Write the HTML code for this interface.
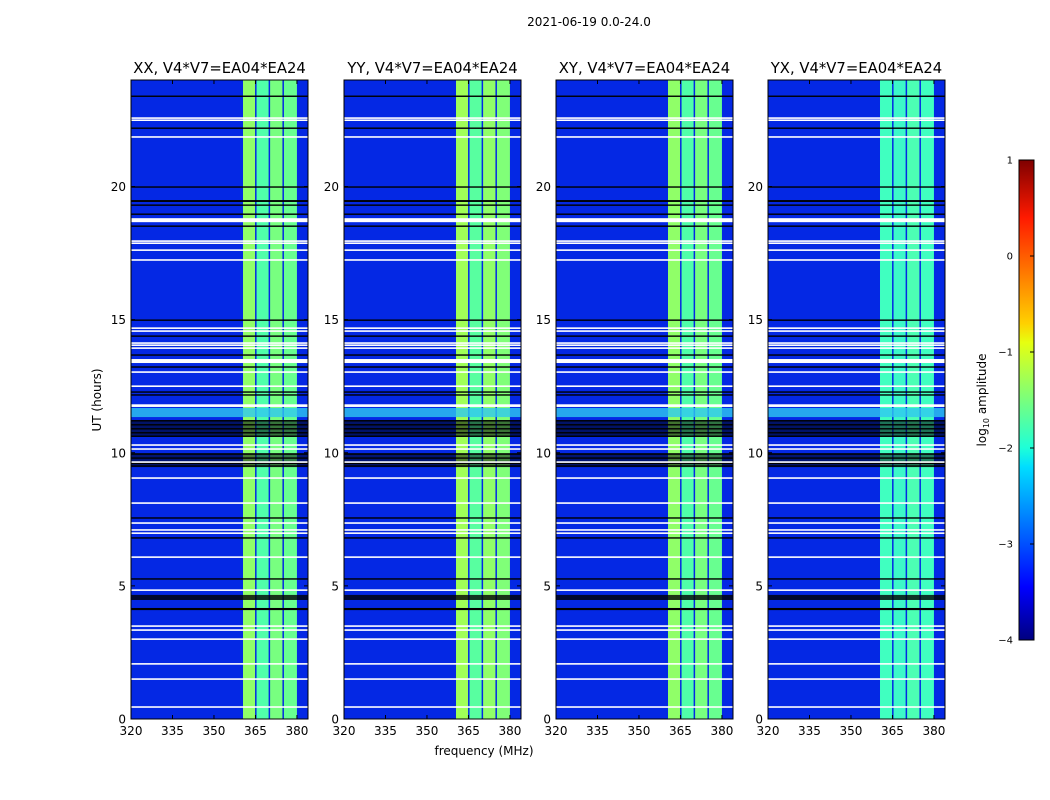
<!DOCTYPE html>
<html><head><meta charset="utf-8">
<style>
html,body{margin:0;padding:0;background:#fff;}
svg{display:block;font-family:"DejaVu Sans","Liberation Sans",sans-serif;}
</style></head>
<body>
<svg id="fig" width="1050" height="800" viewBox="0 0 1050 800" xmlns="http://www.w3.org/2000/svg">
<defs>
<linearGradient id="jet" x1="0" y1="1" x2="0" y2="0">
<stop offset="0" stop-color="#00007f"/>
<stop offset="0.11" stop-color="#0000ff"/>
<stop offset="0.36" stop-color="#00ddff"/>
<stop offset="0.4" stop-color="#1effd8"/>
<stop offset="0.62" stop-color="#e6ff10"/>
<stop offset="0.66" stop-color="#ffd000"/>
<stop offset="0.88" stop-color="#ff1a00"/>
<stop offset="1" stop-color="#7f0000"/>
</linearGradient>
</defs>
<text x="589" y="26" font-size="12" text-anchor="middle">2021-06-19 0.0-24.0</text>
<g id="panels"></g>
<g>
<rect x="1019" y="160" width="15" height="480" fill="url(#jet)" stroke="#000" stroke-width="1"/>
<g id="cbticks"></g>
<text transform="translate(986,400) rotate(-90)" font-size="12" text-anchor="middle">log<tspan font-size="8" dy="3">10</tspan><tspan dy="-3"> amplitude</tspan></text>
</g>
<text x="484" y="755" font-size="12" text-anchor="middle">frequency (MHz)</text>
<text transform="translate(101,400) rotate(-90)" font-size="12" text-anchor="middle">UT (hours)</text>
</svg>
<script>
const panelTitles = ["XX, V4*V7=EA04*EA24","YY, V4*V7=EA04*EA24","XY, V4*V7=EA04*EA24","YX, V4*V7=EA04*EA24"];
const xTicks = [320,335,350,365,380];
const yTicks = [0,5,10,15,20];
const cbTicks = [1,0,-1,-2,-3,-4];
const bandEdges = [360.5,365.4,370.3,375.3,380];
const bandColors = [
 ["#90ff68","#50ffaa","#78ff80","#68ff90"],
 ["#a0ff58","#58ffa0","#90ff68","#80ff78"],
 ["#90ff68","#50ffa8","#78ff80","#68ff90"],
 ["#40ffc0","#3cf8c8","#4cffb4","#40ffc0"]
];
const whiteLines = [22.57,22.49,21.86,17.95,17.87,17.61,17.24,14.68,14.57,14.12,14.04,13.93,13.03,12.50,11.79,11.75,10.29,10.14,9.65,9.05,8.11,7.36,7.10,6.98,6.08,4.84,3.49,3.34,3.00,2.07,1.50,0.45];
const whiteBandsStart = [18.66,13.37];
const whiteBandsEnd = [18.81,13.52];
const blackLines = [23.39,22.19,19.98,19.30,18.96,18.51,14.98,14.38,13.67,13.22,12.28,12.17,7.55,6.80,5.26,11.2,11.05,10.9,10.75,10.62,9.95,9.8,9.6,9.5];
const blackBandsStart = [19.42,10.60,9.46,4.47,4.09];
const blackBandsEnd = [19.49,11.23,9.99,4.66,4.17];
const blackBandOpacity = [1,0.55,0.5,0.8,1];
const brightBandStart = [11.34];
const brightBandEnd = [11.68];
const panelX = [131,344,556,768];
const PW=177, PT=80, PB=719;
const NS="http://www.w3.org/2000/svg";
function mk(tag,attrs,parent){const e=document.createElementNS(NS,tag);for(const k in attrs)e.setAttribute(k,attrs[k]);parent.appendChild(e);return e;}
const yS = h => PB - h*(PB-PT)/24;
const root=document.getElementById('panels');
panelX.forEach((x0,pi)=>{
  const xS = f => x0 + (f-320)*PW/64;
  const g=mk('g',{},root);
  
  
  const bg=mk('rect',{x:x0,y:PT,width:PW,height:PB-PT,fill:"#0428e4"},g);
  
  
  for(let i=0;i<4;i++){
    const r=mk('rect',{x:xS(bandEdges[i]),y:PT,width:xS(bandEdges[i+1])-xS(bandEdges[i])-(i<3?1.5:0),height:PB-PT,fill:bandColors[pi][i]},g);
    
    
  }
  brightBandStart.forEach((s,i)=>{
    const r=mk('rect',{x:x0,y:yS(brightBandEnd[i]),width:PW,height:yS(s)-yS(brightBandEnd[i]),fill:"#30c8f0",opacity:0.8},g);
    
    
  });
  blackBandsStart.forEach((s,i)=>{
    const r=mk('rect',{x:x0,y:yS(blackBandsEnd[i]),width:PW,height:yS(s)-yS(blackBandsEnd[i]),fill:"#000",opacity:blackBandOpacity[i]},g);
    
    
  });
  blackLines.forEach(h=>{
    const r=mk('rect',{x:x0,y:yS(h)-0.7,width:PW,height:1.4,fill:"#000"},g);
    
    
  });
  whiteBandsStart.forEach((s,i)=>{
    const r=mk('rect',{x:x0,y:yS(whiteBandsEnd[i]),width:PW,height:yS(s)-yS(whiteBandsEnd[i]),fill:"#fff"},g);
    
    
  });
  whiteLines.forEach(h=>{
    const r=mk('rect',{x:x0,y:yS(h)-0.8,width:PW,height:1.6,fill:"#fff"},g);
    
    
  });
  const fr=mk('rect',{x:x0,y:PT,width:PW,height:PB-PT,fill:"none",stroke:"#000","stroke-width":1},g);
  
  
  const t=mk('text',{x:x0+PW/2,y:PT-7,"font-size":14.8,"text-anchor":"middle"},g);
  t.textContent=panelTitles[pi];
  
  
  xTicks.forEach(v=>{
    const x=xS(v);
    mk('line',{x1:x,x2:x,y1:PB,y2:PB-4,stroke:"#000"},g);
    mk('line',{x1:x,x2:x,y1:PT,y2:PT+4,stroke:"#000"},g);
    const l=mk('text',{x:x,y:PB+16,"font-size":12,"text-anchor":"middle"},g);
    l.textContent=v;
    
    
  });
  yTicks.forEach(v=>{
    const y=yS(v);
    mk('line',{x1:x0,x2:x0+4,y1:y,y2:y,stroke:"#000"},g);
    mk('line',{x1:x0+PW,x2:x0+PW-4,y1:y,y2:y,stroke:"#000"},g);
    const l=mk('text',{x:x0-5,y:y+4.5,"font-size":12,"text-anchor":"end"},g);
    l.textContent=v;
    
    
  });
});
const cbg=document.getElementById('cbticks');
const cbY = v => 640 - (v+4)*480/5;
cbTicks.forEach(v=>{
  const y=cbY(v);
  mk('line',{x1:1034,x2:1030,y1:y,y2:y,stroke:"#000"},cbg);
  const l=mk('text',{x:1013,y:y+3.5,"font-size":10,"text-anchor":"end"},cbg);
  l.textContent=v<0?"\u2212"+(-v):v;
  
  
});
</script>
</body></html>
